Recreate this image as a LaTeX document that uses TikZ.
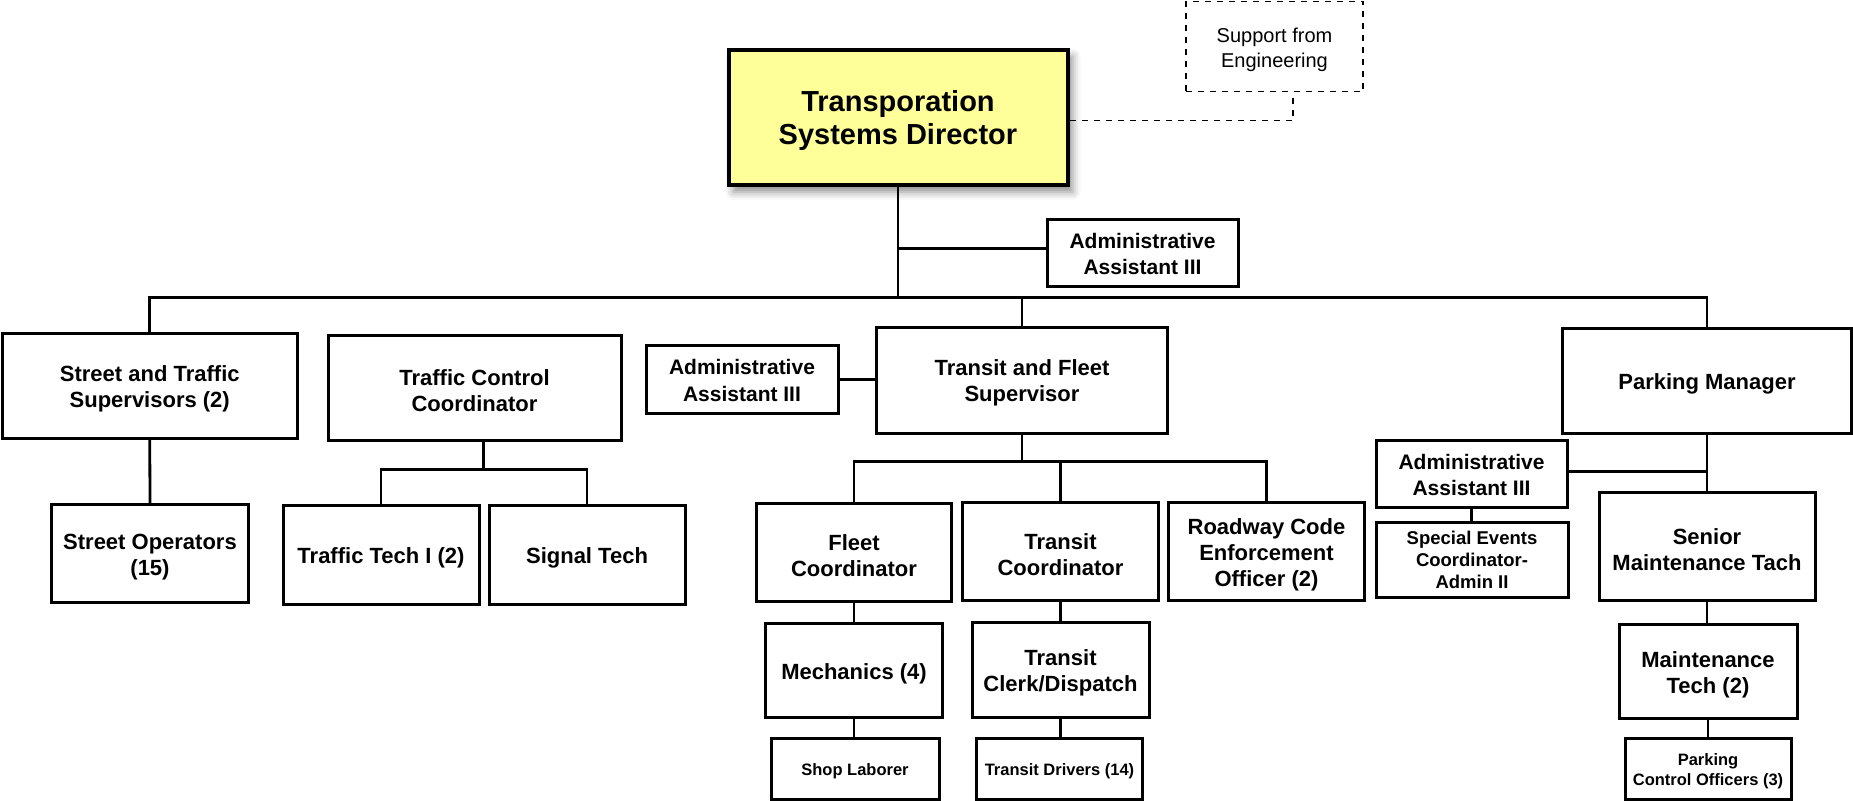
\documentclass[tikz,border=0pt]{standalone}
\usepackage{fontspec}
\setmainfont{Liberation Sans}
\usetikzlibrary{shadows.blur}
\definecolor{dirfill}{RGB}{255,255,153}
% zero-width strut at the start of a label, so the text sits a little lower in its box
\newcommand\lowtext{\rule{0pt}{\lowtextht}}
\newcommand\lowtextht{1em}
\begin{document}
\begin{tikzpicture}[x=0.5pt,y=-0.5pt,
  wh/.style 2 args={minimum width={#1*0.5pt}, minimum height={#2*0.5pt}},
  lift/.style={execute at begin node={\renewcommand\lowtextht{#1}}},
  box/.style={draw, line width=1.5pt, fill=white, align=center, inner sep=0pt,
    font=\bfseries\fontsize{11}{13}\selectfont, lift=11pt},
  adminbox/.style={box, font=\bfseries\fontsize{10.5}{13.3}\selectfont, lift=8.4pt},
  smallbox/.style={box, font=\bfseries\fontsize{8.25}{10}\selectfont, lift=8.5pt},
  eventbox/.style={box, font=\bfseries\fontsize{9.25}{10.85}\selectfont, lift=7pt},
  topbox/.style={draw, line width=2pt, fill=dirfill, align=center, inner sep=0pt,
    font=\bfseries\fontsize{14.5}{16.5}\selectfont, lift=14pt,
    blur shadow={shadow xshift=2.5pt, shadow yshift=-3.5pt, shadow blur radius=4pt, shadow opacity=45}},
  supportbox/.style={draw, dashed, line width=0.6pt, align=center, inner sep=0pt,
    font=\fontsize{10}{12.5}\selectfont, lift=10.5pt},
  link/.style={line width=1.4pt},
  dashlink/.style={dashed, line width=0.6pt}
]
\useasboundingbox (0,0) rectangle (1853,800);

% top level
\node[topbox, wh={339}{135.5}] (dir) at (898,117.25) {\lowtext Transporation\\Systems Director};
\node[supportbox, wh={177}{90.5}] (sup) at (1274.5,46.5) {\lowtext Support from\\Engineering};
\node[adminbox, wh={191}{67}] (adm0) at (1142.5,253) {\lowtext Administrative\\Assistant III};

% second level
\node[box, wh={294.5}{105}] (sts) at (149.75,385.5) {\lowtext Street and Traffic\\Supervisors (2)};
\node[box, wh={293}{105.5}] (tcc) at (474.5,387.75) {\lowtext Traffic Control\\Coordinator};
\node[adminbox, wh={192}{68}] (adm1) at (742,379.5) {\lowtext Administrative\\Assistant III};
\node[box, wh={291}{106}] (tfs) at (1022,380) {\lowtext Transit and Fleet\\Supervisor};
\node[box, wh={288.5}{104.5}] (pkm) at (1707,380.75) {\lowtext Parking Manager};

% street and traffic branch
\node[box, wh={197}{98}] (sop) at (150,553.5) {\lowtext Street Operators\\(15)};
\node[box, wh={196}{99}] (tt1) at (381,554.5) {\lowtext Traffic Tech I (2)};
\node[box, wh={196}{99}] (sig) at (587,554.5) {\lowtext Signal Tech};

% transit and fleet branch
\node[box, wh={195}{98.5}] (flc) at (854,552.25) {\lowtext Fleet\\Coordinator};
\node[box, wh={195.5}{98.5}] (trc) at (1060.5,551.25) {\lowtext Transit\\Coordinator};
\node[box, wh={196.5}{98}] (rce) at (1266.5,551.5) {\lowtext Roadway Code\\Enforcement\\Officer (2)};
\node[box, wh={177}{94}] (mec) at (854,670.5) {\lowtext Mechanics (4)};
\node[box, wh={177}{95}] (tcd) at (1060.5,670) {\lowtext Transit\\Clerk/Dispatch};
\node[smallbox, wh={168}{61}] (shl) at (855,768.5) {\lowtext Shop Laborer};
\node[smallbox, wh={166}{61}] (tdr) at (1059.5,768.5) {\lowtext Transit Drivers (14)};

% parking branch
\node[adminbox, wh={191}{67}] (adm2) at (1471.5,474) {\lowtext Administrative\\Assistant III};
\node[eventbox, wh={192}{75.5}] (sev) at (1472,559.75) {\lowtext Special Events\\Coordinator-\\Admin II};
\node[box, wh={216}{107.5}] (smt) at (1707,546.25) {\lowtext Senior\\Maintenance Tach};
\node[box, wh={178}{94}] (mt2) at (1708,671.5) {\lowtext Maintenance\\Tech (2)};
\node[smallbox, wh={166}{61}] (pco) at (1708,768.5) {\lowtext Parking\\Control Officers (3)};

% junction points
\coordinate (bus) at (898,297.5);
\coordinate (adj) at (898,248.5);
\coordinate (sj) at (1293,120.7);
\coordinate (tccj) at (483.5,469.5);
\coordinate (tfsj) at (1022,461.5);
\coordinate (pkj) at (1707,471.5);

% director connections
\draw[dashlink] (dir.east |- sj) -- (sj) -- (sj |- sup.south);
\draw[link] (dir.south) -- (bus);
\draw[link] (adj) -- (adm0.west |- adj);
\draw[link] (sts.north) |- (bus) -| (pkm.north);
\draw[link] (tfs.north) -- (tfs.north |- bus);

% street and traffic connections
\draw[link] (sts.south) -- (sop.north);
\draw[link] (tccj |- tcc.south) -- (tccj);
\draw[link] (tt1.north) |- (tccj) -| (sig.north);

% transit and fleet connections
\draw[link] (adm1.east) -- (adm1.east -| tfs.west);
\draw[link] (tfs.south) -- (tfsj);
\draw[link] (flc.north) |- (tfsj) -| (rce.north);
\draw[link] (trc.north) -- (trc.north |- tfsj);
\draw[link] (flc.south) -- (mec.north);
\draw[link] (mec.south) -- (mec.south |- shl.north);
\draw[link] (trc.south) -- (trc.south |- tcd.north);
\draw[link] (tcd.south) -- (tcd.south |- tdr.north);

% parking connections
\draw[link] (pkm.south) -- (smt.north);
\draw[link] (adm2.east |- pkj) -- (pkj);
\draw[link] (adm2.south) -- (adm2.south |- sev.north);
\draw[link] (smt.south) -- (smt.south |- mt2.north);
\draw[link] (mt2.south) -- (pco.north);
\end{tikzpicture}
\end{document}
